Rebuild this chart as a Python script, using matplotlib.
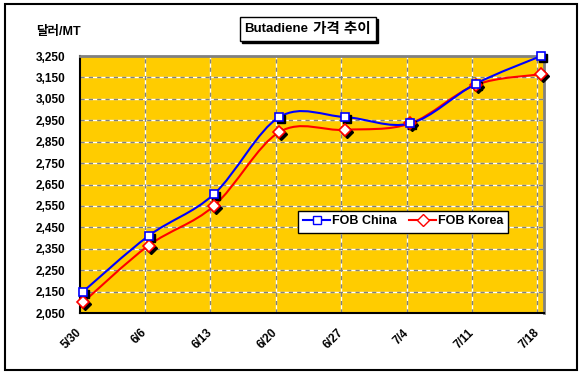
import numpy as np
import matplotlib
matplotlib.use('Agg')
import matplotlib.pyplot as plt
from matplotlib.path import Path
from matplotlib.patches import PathPatch, Rectangle
from matplotlib.lines import Line2D
import matplotlib.transforms as mtransforms

# data
dates = ['5/30', '6/6', '6/13', '6/20', '6/27', '7/4', '7/11', '7/18']
fob_china = [2150, 2410, 2605, 2965, 2965, 2935, 3120, 3250]
fob_korea = [2100, 2365, 2550, 2895, 2905, 2935, 3115, 3165]
y_ticks = list(range(2050, 3251, 100))

plt.rcParams['font.family'] = ['Liberation Sans', 'Noto Sans CJK KR']
plt.rcParams['font.weight'] = 'bold'


#builds a smoothed (bezier) path through the points, like excel's smoothed line
def smooth_path(x, y):
    pts = np.column_stack([x, y]).astype(float)
    n = len(pts)
    verts = [pts[0]]
    codes = [Path.MOVETO]
    for i in range(n - 1):
        p0 = pts[i - 1] if i > 0 else pts[i]
        p3 = pts[i + 2] if i + 2 < n else pts[i + 1]
        c1 = pts[i] + (pts[i + 1] - p0) / 6
        c2 = pts[i + 1] - (p3 - pts[i]) / 6
        verts += [c1, c2, pts[i + 1]]
        codes += [Path.CURVE4] * 3
    return Path(verts, codes)


W, H = 583, 377
fig = plt.figure(figsize=(W / 100, H / 100), dpi=100)
ax = fig.add_axes([79.5 / W, 1 - 313 / H, (544 - 79.5) / W, (313 - 56) / H])
ax.set_facecolor('#FFCC00')

x_idx = np.arange(len(dates))
x_data = x_idx + 0.055

# grid: white under gray dashes
for gx in x_idx[1:]:
    ax.axvline(gx, color='white', lw=1, zorder=1)
    ax.axvline(gx, color='#808080', lw=1, ls=(0, (3, 3)), zorder=1.1)
for gy in y_ticks[1:-1]:
    ax.axhline(gy, color='white', lw=1, zorder=1)
    ax.axhline(gy, color='#808080', lw=1, ls=(0, (3, 3)), zorder=1.1)

ax.add_patch(PathPatch(smooth_path(x_data, fob_korea), fill=False, edgecolor='#FF0000', lw=1.5, zorder=3))
ax.add_patch(PathPatch(smooth_path(x_data, fob_china), fill=False, edgecolor='#0000FF', lw=1.5, zorder=3))

shadow = mtransforms.offset_copy(ax.transData, fig=fig, x=2, y=-2, units='dots')
ax.plot(x_data, fob_korea, ls='none', marker='D', ms=6, mfc='black', mec='black', transform=shadow, zorder=4, clip_on=False)
ax.plot(x_data, fob_china, ls='none', marker='s', ms=6, mfc='black', mec='black', transform=shadow, zorder=4, clip_on=False)
ax.plot(x_data, fob_korea, ls='none', marker='D', ms=6, mfc='white', mec='#FF0000', mew=1.2, zorder=5, clip_on=False)
ax.plot(x_data, fob_china, ls='none', marker='s', ms=6, mfc='white', mec='#0000FF', mew=1.2, zorder=5, clip_on=False)

ax.set_xlim(0, 7.1)
ax.set_ylim(2050, 3250)
ax.set_yticks(y_ticks)
ax.set_yticklabels(['{:,}'.format(v) for v in y_ticks], fontsize=8.5, fontweight='bold')
ax.set_xticks(x_idx)
ax.set_xticklabels(dates, fontsize=8.5, fontweight='bold', rotation=45, ha='right', va='center', rotation_mode='anchor')
ax.tick_params(axis='both', length=0)
ax.tick_params(axis='y', pad=10)
ax.tick_params(axis='x', pad=13)

for s in ['left', 'bottom']:
    ax.spines[s].set_color('black')
    ax.spines[s].set_linewidth(1.5)
for s in ['top', 'right']:
    ax.spines[s].set_color('#808080')
    ax.spines[s].set_linewidth(2)

handles = [Line2D([], [], color='#0000FF', lw=1.5, marker='s', ms=6, mfc='white', mec='#0000FF'),
           Line2D([], [], color='#FF0000', lw=1.5, marker='D', ms=6, mfc='white', mec='#FF0000')]
leg = ax.legend(handles, ['FOB China', 'FOB Korea'], ncol=2, loc='center',
                bbox_to_anchor=(403 / W, 1 - 221.5 / H), bbox_transform=fig.transFigure,
                fancybox=False, framealpha=1, edgecolor='black', fontsize=9,
                handlelength=2.2, columnspacing=1.0, handletextpad=0.1, borderpad=0.4)
leg.get_frame().set_linewidth(1)
leg.set_zorder(10)

# outer border of chart
fig.patches.append(Rectangle((5 / W, 1 - 370 / H), 572 / W, 366 / H, transform=fig.transFigure,
                             fill=False, edgecolor='black', lw=1.5))

# title box with shadow
tx0, tx1, ty0, ty1 = 240, 376, 17, 41
fig.patches.append(Rectangle(((tx0 + 2) / W, 1 - (ty1 + 2) / H), (tx1 - tx0) / W, (ty1 - ty0) / H,
                             transform=fig.transFigure, facecolor='black', edgecolor='black', lw=1))
fig.patches.append(Rectangle((tx0 / W, 1 - ty1 / H), (tx1 - tx0) / W, (ty1 - ty0) / H,
                             transform=fig.transFigure, facecolor='white', edgecolor='black', lw=1))
ty = 1 - (ty0 + ty1) / 2 / H
fig.text(244 / W, ty, 'Butadiene', ha='left', va='center', fontsize=9.5, fontweight='bold')
fig.text(313 / W, ty, '가격 추이', ha='left', va='center', fontsize=10.5, fontweight='bold')

fig.text(58 / W, 1 - 32 / H, '달러/MT', ha='center', va='center', fontsize=9, fontweight='bold')

fig.savefig('out.png', dpi=100)
